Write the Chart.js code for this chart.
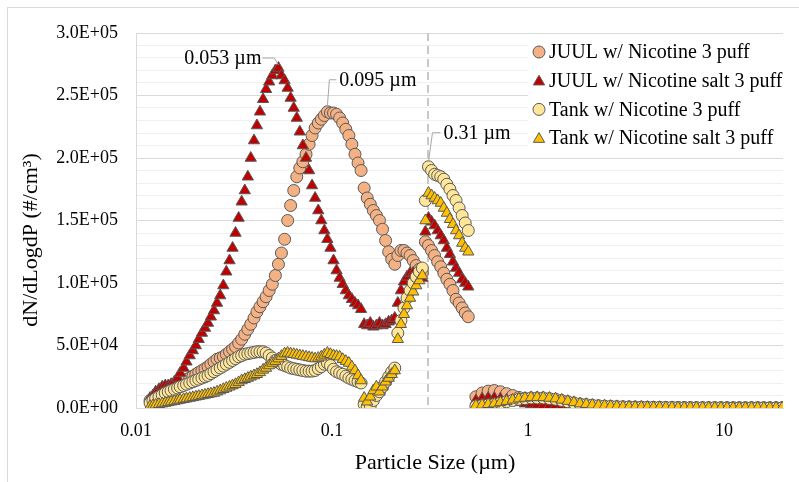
<!DOCTYPE html>
<html>
<head>
<meta charset="utf-8">
<script src="https://cdn.jsdelivr.net/npm/chart.js@4.4.0/dist/chart.umd.min.js"></script>
<style>
  html, body { margin: 0; padding: 0; background: #fff; }
  #wrap { position: relative; width: 799px; height: 482px; }
</style>
</head>
<body>
<div id="wrap"><canvas id="myChart" width="799" height="482"></canvas></div>
<script>
// particle sizes in µm (SMPS channels, then APS channels)
const smpsSizes = [
  0.0118, 0.0122, 0.0126, 0.0131, 0.0136, 0.0141, 0.0146, 0.0151, 0.0157, 0.0163,
  0.0168, 0.0175, 0.0181, 0.0188, 0.0195, 0.0202, 0.0209, 0.0217, 0.0225, 0.0233,
  0.0241, 0.0250, 0.0259, 0.0269, 0.0279, 0.0289, 0.0300, 0.0311, 0.0322, 0.0334,
  0.0346, 0.0359, 0.0372, 0.0385, 0.0400, 0.0414, 0.0429, 0.0445, 0.0461, 0.0478,
  0.0496, 0.0514, 0.0533, 0.0552, 0.0573, 0.0594, 0.0615, 0.0638, 0.0661, 0.0685,
  0.0710, 0.0737, 0.0764, 0.0791, 0.0820, 0.0851, 0.0882, 0.0914, 0.0947, 0.0982,
  0.1018, 0.1055, 0.1094, 0.1134, 0.1176, 0.1219, 0.1263, 0.1310, 0.1358, 0.1407,
  0.1459, 0.1512, 0.1568, 0.1625, 0.1685, 0.1747, 0.1811, 0.1877, 0.1946, 0.2017,
  0.2091, 0.2167, 0.2247, 0.2329, 0.2414, 0.2503, 0.2595, 0.2690, 0.2788, 0.2890,
  0.2996, 0.3106, 0.3220, 0.3338, 0.3460, 0.3587, 0.3718, 0.3854, 0.3995, 0.4142,
  0.4294, 0.4451, 0.4614, 0.4783, 0.4958
];
const apsSizes = [
  0.542, 0.583, 0.626, 0.673, 0.723, 0.777, 0.835, 0.898, 0.965, 1.037,
  1.114, 1.197, 1.286, 1.382, 1.486, 1.596, 1.715, 1.843, 1.981, 2.129,
  2.288, 2.458, 2.642, 2.839, 3.051, 3.278, 3.523, 3.786, 4.068, 4.371,
  4.698, 5.048, 5.425, 5.829, 6.264, 6.732, 7.234, 7.774, 8.354, 8.977,
  9.647, 10.37, 11.14, 11.97, 12.86, 13.82, 14.86, 15.96, 17.15, 18.43, 19.81
];

const seriesNames = [
  'JUUL w/ Nicotine 3 puff',
  'JUUL w/ Nicotine salt 3 puff',
  'Tank w/ Nicotine 3 puff',
  'Tank w/ Nicotine salt 3 puff'
];

// dN/dLogdP (#/cm3)
const juulNicSmps = [
  6000, 7500, 9000, 10500, 12000, 13500, 15000, 16500, 18000, 19500,
  21000, 22000, 23000, 24000, 25500, 27000, 28500, 30000, 31500, 33000,
  35000, 37000, 39000, 40000, 41000, 43000, 45000, 47000, 49000, 52000,
  55000, 59000, 63000, 67000, 72000, 77000, 81000, 85000, 89000, 94000,
  99000, 106000, 115000, 124000, 135000, 150000, 162000, 174000, 185000, 192000,
  197000, 203000, 211000, 218000, 224000, 228000, 231000, 234000, 237000, 236000,
  236000, 235000, 232000, 228000, 223000, 218000, 211000, 203000, 196000, 190000,
  176000, 168000, 163000, 158000, 154000, 150000, 143000, 134000, 125000, 119000,
  115000, 122000, 126000, 126000, 124000, 122000, 118000, 114000, 111000, 108000,
  133000, 130000, 126000, 122000, 117000, 113000, 108000, 103000, 99000, 94000,
  87000, 84000, 80000, 76000, 73000
];
const juulNicAps = [
  9000, 12000, 13500, 14000, 13000, 11500, 10000, 8500, 7500, 7000,
  7000, 6500, 6000, 5000, 4000, 3500, 3000, 2500, 2000, 1500,
  1200, 1000, 800, 700, 600, 500, 400, 400, 300, 300,
  300, 200, 200, 200, 200, 100, 100, 100, 100, 100,
  100, 100, 100, 100, 100, 100, 100, 100, 100, 100, 100
];

const juulSaltSmps = [
  8000, 10000, 13000, 15000, 17000, 18000, 18000, 19000, 21000, 24000,
  28000, 32000, 37000, 42000, 46000, 50000, 55000, 60000, 64000, 68000,
  73000, 78000, 84000, 90000, 98000, 109000, 118000, 128000, 140000, 152000,
  165000, 174000, 185000, 200000, 214000, 226000, 237000, 247000, 255000, 261000,
  266000, 270000, 272000, 266000, 262000, 256000, 248000, 240000, 232000, 221000,
  210000, 200000, 190000, 178000, 168000, 158000, 150000, 142000, 135000, 128000,
  118000, 110000, 104000, 99000, 94000, 90000, 87000, 84000, 82000, 79000,
  67000, 66000, 68000, 65000, 66000, 68000, 66000, 67000, 69000, 70000,
  72000, 84000, 94000, 101000, 105000, 108000, 108000, 107000, 106000, 104000,
  141000, 152000, 149000, 146000, 142000, 138000, 134000, 128000, 123000, 117000,
  112000, 108000, 103000, 100000, 97000
];
const juulSaltAps = [
  6000, 7500, 8000, 8000, 7500, 6500, 5500, 4500, 3500, 3000,
  2500, 2200, 2000, 1800, 1500, 1200, 1000, 800, 600, 500,
  400, 300, 300, 200, 200, 200, 100, 100, 100, 100,
  100, 100, 100, 100, 100, 100, 100, 100, 100, 100,
  100, 100, 100, 100, 100, 100, 100, 100, 100, 100, 100
];

const tankNicSmps = [
  4000, 6000, 7500, 9000, 10500, 12000, 13000, 14000, 15000, 16000,
  17000, 18000, 19000, 20000, 21000, 22000, 23000, 24000, 25000, 26000,
  27500, 29000, 30500, 32000, 33500, 35000, 36500, 38000, 39500, 41000,
  42000, 43000, 43500, 44000, 44500, 45000, 45000, 45000, 44000, 42000,
  40000, 38000, 36500, 35000, 34000, 33000, 32000, 31500, 31000, 30500,
  30000, 29500, 29500, 29500, 30000, 31500, 33000, 35000, 36000, 34000,
  31000, 29000, 28000, 27000, 25500, 24000, 23000, 22000, 21000, 20000,
  3000, 1000, 2000, 6000, 10000, 13000, 17000, 21000, 25000, 29000,
  32000, 60000, 70000, 80000, 88000, 94000, 100000, 105000, 109000, 112000,
  166000, 193000, 190000, 187000, 186000, 185000, 183000, 179000, 175000, 170000,
  166000, 160000, 154000, 148000, 142000
];
const tankNicAps = [
  1500, 2000, 2500, 3000, 4000, 5000, 6000, 7000, 7500, 8000,
  8000, 8000, 7500, 7000, 6000, 5000, 4000, 3200, 2700, 2200,
  1800, 1500, 1300, 1100, 1000, 900, 800, 700, 600, 500,
  500, 400, 400, 300, 300, 300, 200, 200, 200, 200,
  200, 100, 100, 100, 100, 100, 100, 100, 100, 100, 100
];

const tankSaltSmps = [
  1500, 2000, 2500, 3000, 3500, 4000, 4500, 5000, 5500, 6000,
  6500, 7000, 7500, 8000, 8500, 9000, 9500, 10000, 10500, 11000,
  11500, 12000, 13000, 14000, 15000, 16000, 17000, 18000, 19000, 20500,
  22000, 23000, 24000, 25000, 26000, 27000, 28500, 30500, 32000, 34000,
  36000, 37500, 39500, 41500, 43500, 44000, 43500, 43000, 42500, 42000,
  41500, 41000, 40500, 40000, 39500, 40000, 41000, 42500, 44000, 43000,
  42000, 41500, 41000, 39000, 37500, 36000, 33000, 30000, 26000, 22000,
  8000, 5000, 9000, 14000, 17000, 13000, 17000, 21000, 24000, 27000,
  30000, 55000, 67000, 75000, 82000, 88000, 93000, 98000, 102000, 106000,
  150000, 172000, 170000, 168000, 166000, 164000, 160000, 156000, 151000, 147000,
  142000, 138000, 132000, 128000, 125000
];
const tankSaltAps = [
  2000, 2500, 3000, 3500, 4500, 5500, 6500, 7500, 8000, 8500,
  8500, 8500, 8000, 7500, 6500, 5500, 4500, 3500, 3000, 2500,
  2000, 1800, 1500, 1300, 1100, 1000, 900, 800, 700, 600,
  600, 500, 500, 400, 400, 400, 300, 300, 300, 300,
  200, 200, 200, 200, 200, 200, 200, 200, 200, 200, 200
];

const xTicks = [0.01, 0.1, 1, 10];
const peakLabels = [
  { series: 1, size: 0.0533, text: '0.053 µm' },
  { series: 0, size: 0.0947, text: '0.095 µm' },
  { series: 2, size: 0.3106, text: '0.31 µm' }
];
const cutSize = 0.31;

const serif = "'Liberation Serif', 'Times New Roman', serif";
const markerBorder = '#595959';
const styles = [
  { fill: '#F4B183', shape: 'circle', r: 6 },
  { fill: '#C00000', shape: 'triangle', r: 6.5 },
  { fill: '#FFE699', shape: 'circle', r: 6 },
  { fill: '#FFC000', shape: 'triangle', r: 6.5 }
];

function toPoints(smps, aps) {
  const ys = smps.concat(aps);
  return smpsSizes.concat(apsSizes).map((x, i) => ({ x: x, y: ys[i] }));
}

function sci(v) {
  if (v === 0) return '0.0E+00';
  const e = Math.floor(Math.log10(v) + 1e-9);
  const m = v / Math.pow(10, e);
  return m.toFixed(1) + 'E+' + String(e).padStart(2, '0');
}

function drawMarker(ctx, shape, x, y, r, fill) {
  ctx.save();
  ctx.fillStyle = fill;
  ctx.strokeStyle = markerBorder;
  ctx.lineWidth = 1;
  ctx.beginPath();
  if (shape === 'circle') {
    ctx.arc(x, y, r, 0, Math.PI * 2);
  } else {
    ctx.moveTo(x, y - r);
    ctx.lineTo(x + r * 0.866, y + r * 0.5);
    ctx.lineTo(x - r * 0.866, y + r * 0.5);
    ctx.closePath();
  }
  ctx.fill();
  ctx.stroke();
  ctx.restore();
}

const allSeries = [
  toPoints(juulNicSmps, juulNicAps),
  toPoints(juulSaltSmps, juulSaltAps),
  toPoints(tankNicSmps, tankNicAps),
  toPoints(tankSaltSmps, tankSaltAps)
];

// frame, dashed cut line and legend sit under the markers
const backdrop = {
  id: 'backdrop',
  beforeDraw(chart) {
    const ctx = chart.ctx;
    ctx.save();
    ctx.strokeStyle = '#d9d9d9';
    ctx.lineWidth = 1;
    ctx.strokeRect(7.5, 7.5, 900, 900);
    ctx.restore();
  },
  beforeDatasetsDraw(chart) {
    const ctx = chart.ctx;
    const area = chart.chartArea;
    const xs = chart.scales.x;
    const px = Math.round(xs.getPixelForValue(cutSize));
    ctx.save();
    ctx.strokeStyle = '#c8c8c8';
    ctx.lineWidth = 2;
    ctx.setLineDash([8, 5]);
    ctx.beginPath();
    ctx.moveTo(px, area.top);
    ctx.lineTo(px, area.bottom);
    ctx.stroke();
    ctx.setLineDash([]);

    // legend
    const lx = 528, ly = 52, gap = 28.7;
    ctx.fillStyle = '#fff';
    ctx.fillRect(lx, ly - 16, 270, gap * 3 + 32);
    ctx.font = '20px ' + serif;
    ctx.textBaseline = 'middle';
    ctx.textAlign = 'left';
    seriesNames.forEach((name, i) => {
      const s = styles[i];
      const y = ly + i * gap;
      drawMarker(ctx, s.shape, lx + 11, y + (s.shape === 'triangle' ? 1 : 0), s.r, s.fill);
      ctx.fillStyle = '#000';
      ctx.fillText(name, lx + 21, y + 1);
    });
    ctx.restore();
  },
  afterDatasetsDraw(chart) {
    const ctx = chart.ctx;
    const xs = chart.scales.x, ys = chart.scales.y;
    ctx.save();
    ctx.font = '20px ' + serif;
    ctx.textBaseline = 'middle';
    ctx.strokeStyle = '#a6a6a6';
    ctx.lineWidth = 1;
    peakLabels.forEach((p, k) => {
      const pt = allSeries[p.series].find(d => d.x === p.size);
      const x = xs.getPixelForValue(pt.x);
      const y = ys.getPixelForValue(pt.y);
      ctx.beginPath();
      if (k === 0) {
        const tx = x - 17, ty = y - 10;
        ctx.moveTo(x, y - 3); ctx.lineTo(x - 4, ty); ctx.lineTo(tx + 1, ty);
        ctx.stroke();
        ctx.textAlign = 'right';
        ctx.fillStyle = '#000';
        ctx.fillText(p.text, tx, ty + 1);
      } else {
        const tx = x + (k === 1 ? 12 : 15), ty = y - (k === 1 ? 32 : 34);
        ctx.moveTo(x, y - 5); ctx.lineTo(x + (k === 1 ? 2 : 4), ty); ctx.lineTo(tx - 3, ty);
        ctx.stroke();
        ctx.textAlign = 'left';
        ctx.fillStyle = '#000';
        ctx.fillText(p.text, tx, ty + 1);
      }
    });

    // axis titles
    ctx.fillStyle = '#000';
    ctx.font = '22px ' + serif;
    ctx.textAlign = 'center';
    ctx.fillText('Particle Size (µm)', 435, 463);
    ctx.translate(31, 240);
    ctx.rotate(-Math.PI / 2);
    ctx.fillText('dN/dLogdP (#/cm³)', 0, 0);
    ctx.restore();
  }
};

Chart.defaults.font.family = serif;
Chart.defaults.color = '#000';

const ctx = document.getElementById('myChart');
new Chart(ctx, {
  type: 'scatter',
  data: {
    datasets: allSeries.map((pts, i) => ({
      label: seriesNames[i],
      data: pts,
      order: 4 - i,
      pointStyle: styles[i].shape,
      pointRadius: styles[i].r,
      pointBackgroundColor: styles[i].fill,
      pointBorderColor: markerBorder,
      pointBorderWidth: 1
    }))
  },
  options: {
    responsive: false,
    animation: false,
    layout: { padding: { top: 33, right: 16, bottom: 0, left: 0 } },
    scales: {
      x: {
        type: 'logarithmic',
        min: 0.01,
        max: 20,
        afterBuildTicks: (scale) => { scale.ticks = xTicks.map(v => ({ value: v })); },
        afterFit: (scale) => { scale.height = 74; },
        grid: { display: false, drawTicks: false },
        border: { color: '#d9d9d9' },
        ticks: {
          font: { size: 18 },
          padding: 12,
          autoSkip: false,
          maxRotation: 0,
          callback: (v) => String(v)
        }
      },
      y: {
        min: 0,
        max: 300000,
        afterFit: (scale) => { scale.width = 136; },
        grid: {
          drawTicks: false,
          color: (c) => (c.tick && c.tick.value % 50000 === 0 ? '#d9d9d9' : '#f0f0f0')
        },
        border: { color: '#d9d9d9' },
        ticks: {
          stepSize: 10000,
          autoSkip: false,
          font: { size: 18 },
          padding: 18,
          callback: (v) => (v % 50000 === 0 ? sci(v) : '')
        }
      }
    },
    plugins: {
      legend: { display: false },
      tooltip: { enabled: false },
      title: { display: false }
    }
  },
  plugins: [backdrop]
});
</script>
</body>
</html>
